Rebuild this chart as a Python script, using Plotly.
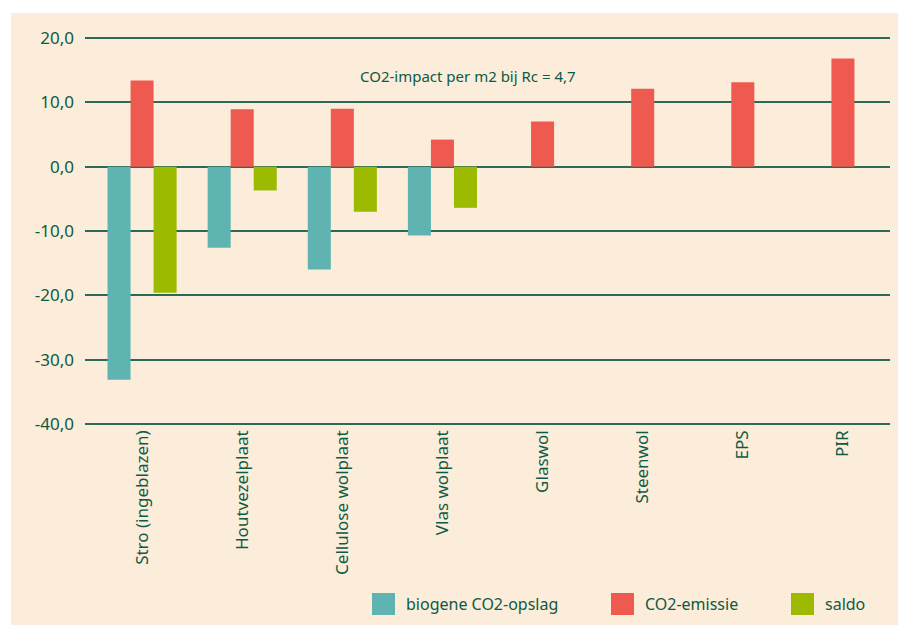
import plotly.graph_objects as go

# data
categories = ["Stro (ingeblazen)", "Houtvezelplaat", "Cellulose wolplaat", "Vlas wolplaat",
              "Glaswol", "Steenwol", "EPS", "PIR"]
biogene = [-33.1, -12.6, -16.0, -10.7, None, None, None, None]
emissie = [13.4, 8.9, 9.0, 4.2, 7.0, 12.1, 13.1, 16.8]
saldo = [-19.6, -3.7, -7.0, -6.4, None, None, None, None]

series_names = ["biogene CO2-opslag", "CO2-emissie", "saldo"]
y_ticks = [20, 10, 0, -10, -20, -30, -40]
y_labels = ["20,0", "10,0", "0,0", "-10,0", "-20,0", "-30,0", "-40,0"]

colors = ["#5FB4B2", "#EE5A4F", "#9BBA00"]
txt = "#0E5A45"
grid = "#2B6A58"
bg = "#FBEDDA"
font = "Noto Sans"

W, H = 898, 625
L, R, T, B = 85, 8, 36, 199
pw, ph = W - L - R, H - T - B


def px(x):
    return (x - L) / pw


def py(y):
    return (H - B - y) / ph


fig = go.Figure()
for name, vals, col in zip(series_names, [biogene, emissie, saldo], colors):
    fig.add_trace(go.Bar(x=categories, y=vals, name=name, marker_color=col,
                         marker_line_width=0, showlegend=False))

# beige card behind the chart
fig.add_shape(type="rect", xref="paper", yref="paper", x0=px(11), x1=px(899), y0=py(626), y1=py(13),
              fillcolor=bg, line_width=0, layer="below")

# hand drawn legend (big squares like the original)
leg_x = [372, 611, 791]
for name, col, lx in zip(series_names, colors, leg_x):
    fig.add_shape(type="rect", xref="paper", yref="paper", x0=px(lx), x1=px(lx + 23),
                  y0=py(615), y1=py(593), fillcolor=col, line_width=0)
    fig.add_annotation(xref="paper", yref="paper", x=px(lx + 32), y=py(604),
                       text=name, showarrow=False, xanchor="left", yanchor="middle",
                       font=dict(family=font, size=16, color=txt))

fig.add_annotation(xref="paper", yref="paper", x=px(468), y=py(64),
                   text="CO2-impact per m2 bij Rc = 4,7", showarrow=False,
                   font=dict(family=font, size=15, color=txt))

fig.update_layout(
    width=W, height=H,
    margin=dict(l=L, r=R, t=T, b=B),
    paper_bgcolor="white",
    plot_bgcolor="rgba(0,0,0,0)",
    barmode="group", bargap=0.31, bargroupgap=0,
    font=dict(family=font, color=txt, size=15),
    xaxis=dict(range=[-0.57, 7.47], tickangle=-90, showgrid=False, showline=False,
               zeroline=False, ticks="", tickfont=dict(size=17, color=txt)),
    yaxis=dict(range=[-40.3, 20.3], tickvals=y_ticks, ticktext=y_labels, showgrid=True,
               gridcolor=grid, gridwidth=2, zeroline=True, zerolinecolor=grid,
               zerolinewidth=2, ticks="", ticklabelstandoff=10,
               tickfont=dict(size=17, color=txt)),
)

# the page has a default 8px body margin; drop it so the chart sits at 0,0
fig.write_html("out.html", config={"displayModeBar": False},
               post_script="document.body.style.margin='0';")
